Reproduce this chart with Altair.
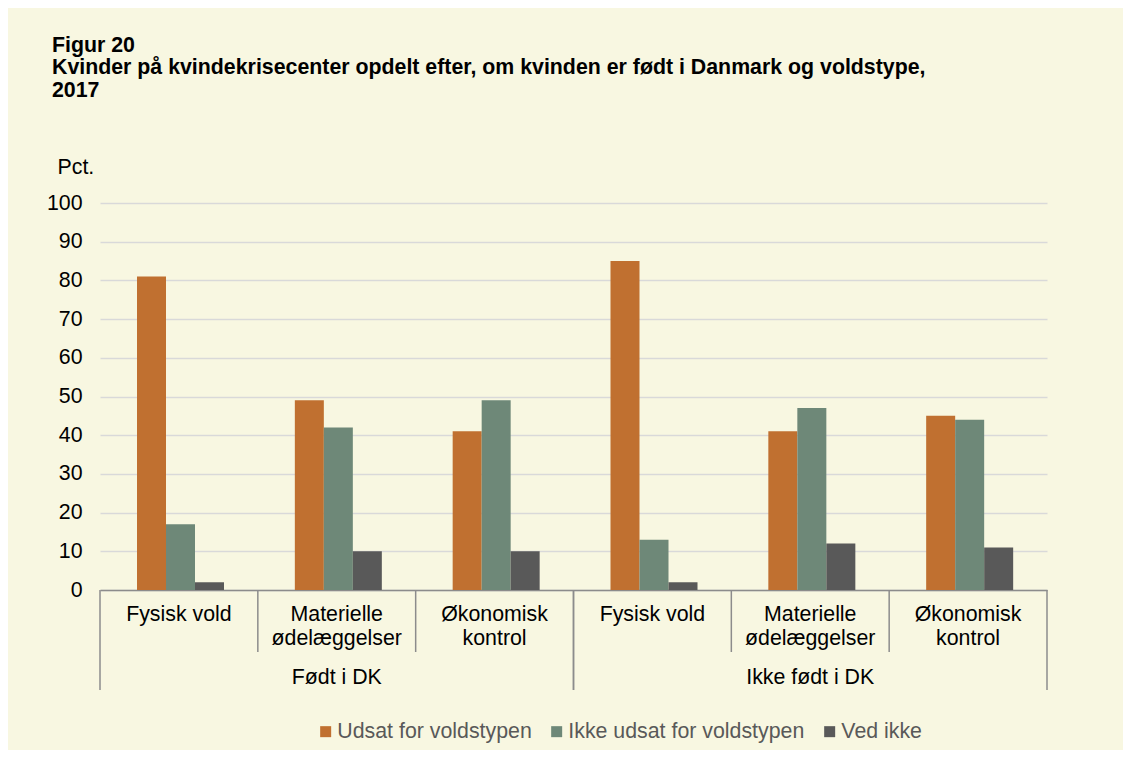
import altair as alt
import pandas as pd

groups = ["Født i DK", "Ikke født i DK"]
categories = ["Fysisk vold", "Materielle\nødelæggelser", "Økonomisk\nkontrol"]
series = ["Udsat for voldstypen", "Ikke udsat for voldstypen", "Ved ikke"]
udsat = [81, 49, 41, 85, 41, 45]
ikke_udsat = [17, 42, 49, 13, 47, 44]
ved_ikke = [2, 10, 10, 2, 12, 11]
colors = ["#C07030", "#6E8878", "#595959"]
y_ticks = list(range(0, 101, 10))

FONT = "Liberation Sans"
FS = 21.33
BG = "#F8F7E1"

keys, group_of, cat_of, pos_of = [], [], [], []
for g in groups:
    for i, c in enumerate(categories):
        keys.append(g + "|" + c)
        group_of.append(g)
        cat_of.append(c)
        pos_of.append(i)

rows = []
for s, vals in zip(series, [udsat, ikke_udsat, ved_ikke]):
    for k, v in zip(keys, vals):
        rows.append({"key": k, "series": s, "value": v})
bars_df = pd.DataFrame(rows)
cat_df = pd.DataFrame({"key": keys, "label": cat_of, "group": group_of, "pos": pos_of})

W, H = 947, 387


def xenc(bp=None):
    kw = dict(sort=keys, scale=alt.Scale(paddingInner=0, paddingOuter=0))
    if bp is not None:
        kw["bandPosition"] = bp
    return alt.X("key:N", **kw)


bars = alt.Chart(bars_df).mark_bar().encode(
    x=alt.X("key:N", sort=keys, scale=alt.Scale(paddingInner=0, paddingOuter=0),
            axis=alt.Axis(labels=False, ticks=False, title=None, grid=False,
                          domainColor="#8C8C8C", domainWidth=1.5)),
    xOffset=alt.XOffset("series:N", sort=series,
                        scale=alt.Scale(range=[37, 124], paddingInner=0, paddingOuter=0)),
    y=alt.Y("value:Q", scale=alt.Scale(domain=[0, 100]),
            axis=alt.Axis(values=y_ticks, title="Pct.", titleAngle=0, titleAlign="left",
                          titleBaseline="alphabetic", titleX=-43, titleY=-30,
                          titleFont=FONT, titleFontSize=FS, titleFontWeight="normal",
                          titleColor="#000000",
                          labelFont=FONT, labelFontSize=FS, labelColor="#000000",
                          labelPadding=18, ticks=False, domain=False,
                          gridColor="#D9D9D9", gridWidth=1.5)),
    color=alt.Color("series:N", scale=alt.Scale(domain=series, range=colors),
                    legend=alt.Legend(orient="none", legendX=215, legendY=518,
                                      direction="horizontal", title=None,
                                      symbolType="square", symbolSize=121,
                                      symbolStrokeWidth=0, labelFont=FONT,
                                      labelFontSize=FS, labelColor="#595959",
                                      labelOffset=1, columnPadding=14,
                                      labelLimit=0, padding=0)),
)

cat_labels = alt.Chart(cat_df).mark_text(
    font=FONT, fontSize=FS, color="#000000", baseline="alphabetic",
    lineBreak="\n", lineHeight=24
).encode(x=xenc(), y=alt.value(418), text="label:N")

group_labels = alt.Chart(cat_df).transform_filter(alt.datum.pos == 1).mark_text(
    font=FONT, fontSize=FS, color="#000000", baseline="alphabetic"
).encode(x=xenc(), y=alt.value(481), text="group:N")

inner_sep = alt.Chart(cat_df).transform_filter(alt.datum.pos != 0).mark_rule(
    color="#8C8C8C", strokeWidth=1.5
).encode(x=xenc(0), y=alt.value(H), y2=alt.value(449))

group_sep = alt.Chart(cat_df).transform_filter(alt.datum.pos == 0).mark_rule(
    color="#8C8C8C", strokeWidth=1.5
).encode(x=xenc(0), y=alt.value(H), y2=alt.value(487))

end_sep = alt.Chart(cat_df).transform_filter(alt.datum.pos == 2).mark_rule(
    color="#8C8C8C", strokeWidth=1.5
).encode(x=xenc(1), y=alt.value(H), y2=alt.value(487))

chart = alt.layer(bars, inner_sep, group_sep, end_sep, cat_labels, group_labels).properties(
    width=W, height=H,
    title=alt.Title(
        ["Figur 20",
         "Kvinder på kvindekrisecenter opdelt efter, om kvinden er født i Danmark og voldstype,",
         "2017"],
        anchor="start", frame="group", dx=-48, offset=55, font=FONT, fontSize=FS,
        fontWeight="bold", color="#000000", lineHeight=22.5),
    autosize=alt.AutoSizeParams(type="none"),
    padding={"left": 92, "top": 195, "right": 76, "bottom": 160},
    background=BG,
).configure_view(stroke=None)

chart.save("out.html", embed_options={"renderer": "svg", "actions": False})
